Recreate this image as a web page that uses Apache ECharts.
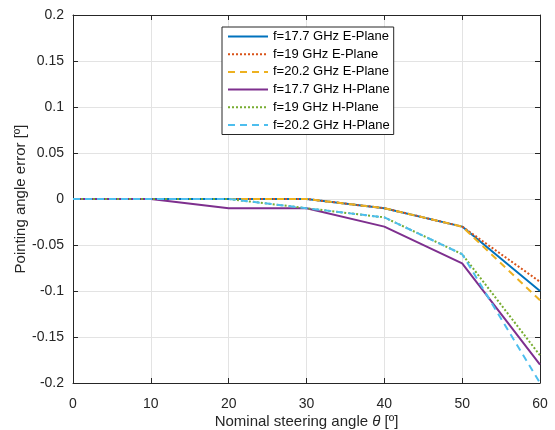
<!DOCTYPE html>
<html>
<head>
<meta charset="utf-8">
<script src="https://cdn.jsdelivr.net/npm/echarts@6/dist/echarts.min.js"></script>
<style>html,body{margin:0;padding:0;background:#fff;}#c{width:555px;height:430px;}</style>
</head>
<body>
<div id="c"></div>
<script>
const angles = [0, 10, 20, 30, 40, 50, 60];
const e177 = [0, 0, 0, 0, -0.01, -0.03, -0.1];
const e19 = [0, 0, 0, 0, -0.01, -0.03, -0.09];
const e202 = [0, 0, 0, 0, -0.01, -0.03, -0.11];
const h177 = [0, 0, -0.01, -0.01, -0.03, -0.07, -0.18];
const h19 = [0, 0, 0, -0.01, -0.02, -0.06, -0.17];
const h202 = [0, 0, 0, -0.01, -0.02, -0.06, -0.2];
const names = ['f=17.7 GHz E-Plane', 'f=19 GHz E-Plane', 'f=20.2 GHz E-Plane',
               'f=17.7 GHz H-Plane', 'f=19 GHz H-Plane', 'f=20.2 GHz H-Plane'];
const values = [e177, e19, e202, h177, h19, h202];
const colors = ['#0072BD', '#D95319', '#EDB120', '#7E2F8E', '#77AC30', '#4DBEEE'];
const dashes = ['solid', [2, 2], [7, 5], 'solid', [2, 2], [7, 5]];

const font = 'Liberation Sans, Arial, Helvetica, sans-serif';
const axisColor = '#262626';
const chart = echarts.init(document.getElementById('c'), null, {renderer: 'canvas'});
const series = names.map((n, i) => ({
  name: n,
  type: 'line',
  data: angles.map((a, j) => [a, values[i][j]]),
  showSymbol: false,
  symbol: 'none',
  lineStyle: {color: colors[i], width: 2, type: dashes[i]},
  itemStyle: {color: colors[i]},
  animation: false
}));
const baseX = {
  type: 'value', min: 0, max: 60, interval: 10,
  axisLine: {onZero: false, lineStyle: {color: axisColor, width: 1}},
  axisTick: {inside: true, length: 5, lineStyle: {color: axisColor}}
};
const baseY = {
  type: 'value', min: -0.2, max: 0.2, interval: 0.05,
  axisLine: {show: true, onZero: false, lineStyle: {color: axisColor, width: 1}},
  axisTick: {show: true, inside: true, length: 5, lineStyle: {color: axisColor}}
};
chart.setOption({
  animation: false,
  grid: {left: 73, right: 15, top: 15, bottom: 47, containLabel: false, outerBoundsMode: 'none'},
  legend: {
    data: names,
    orient: 'vertical',
    left: 222, top: 27,
    itemWidth: 40, itemHeight: 10, itemGap: 4.7,
    padding: [3, 4, 3, 5],
    backgroundColor: '#ffffff',
    borderColor: axisColor, borderWidth: 1,
    itemStyle: {opacity: 0},
    textStyle: {fontFamily: font, fontSize: 13, color: '#000'}
  },
  xAxis: [
    Object.assign({}, baseX, {
      position: 'bottom',
      axisLabel: {fontFamily: font, fontSize: 14, color: axisColor, margin: 14},
      splitLine: {show: true, lineStyle: {color: '#e3e3e3', width: 1}},
      name: 'Nominal steering angle {i|θ} [º]',
      nameLocation: 'middle', nameGap: 31, nameMoveOverlap: false,
      nameTextStyle: {fontFamily: font, fontSize: 15, color: axisColor,
        rich: {i: {fontFamily: font, fontSize: 15, fontStyle: 'italic', color: axisColor}}}
    }),
    Object.assign({}, baseX, {
      position: 'top',
      axisLabel: {show: false},
      splitLine: {show: false}
    })
  ],
  yAxis: [
    Object.assign({}, baseY, {
      position: 'left',
      axisLabel: {fontFamily: font, fontSize: 14, color: axisColor, margin: 9},
      splitLine: {show: true, lineStyle: {color: '#e3e3e3', width: 1}},
      name: 'Pointing angle error [º]',
      nameLocation: 'middle', nameGap: 45, nameMoveOverlap: false,
      nameTextStyle: {fontFamily: font, fontSize: 15, color: axisColor}
    }),
    Object.assign({}, baseY, {
      position: 'right',
      axisLabel: {show: false},
      splitLine: {show: false}
    })
  ],
  series: series
});
</script>
</body>
</html>
